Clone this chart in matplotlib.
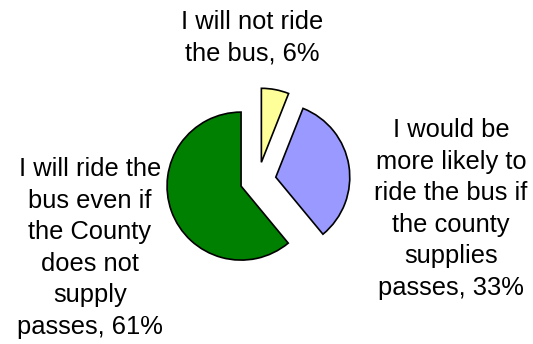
import matplotlib
matplotlib.use("Agg")
import matplotlib.pyplot as plt

labels = ["I will ride the\nbus even if\nthe County\ndoes not\nsupply\npasses, 61%",
          "I would be\nmore likely to\nride the bus if\nthe county\nsupplies\npasses, 33%",
          "I will not ride\nthe bus, 6%"]
values = [61, 33, 6]
colors = ["#008000", "#9999FF", "#FFFF99"]

W, H = 533, 344
fig = plt.figure(figsize=(W / 100, H / 100), dpi=100)
ax = fig.add_axes([0, 0, 1, 1])
ax.pie(values, colors=colors, startangle=90, counterclock=True,
       explode=[18, 18, 18], center=(258, H - 180), radius=74,
       wedgeprops=dict(edgecolor="black", linewidth=1.2), frame=True)
ax.set_xlim(0, W)
ax.set_ylim(0, H)
ax.set_aspect("equal")
ax.axis("off")

label_pos = [(90, 248), (451, 209), (252, 38)]
for lab, (x, y) in zip(labels, label_pos):
    ax.text(x, H - y, lab, ha="center", va="center", fontsize=18.4,
            family="Liberation Sans", linespacing=1.4, color="black")

fig.savefig("out.png", dpi=100)
